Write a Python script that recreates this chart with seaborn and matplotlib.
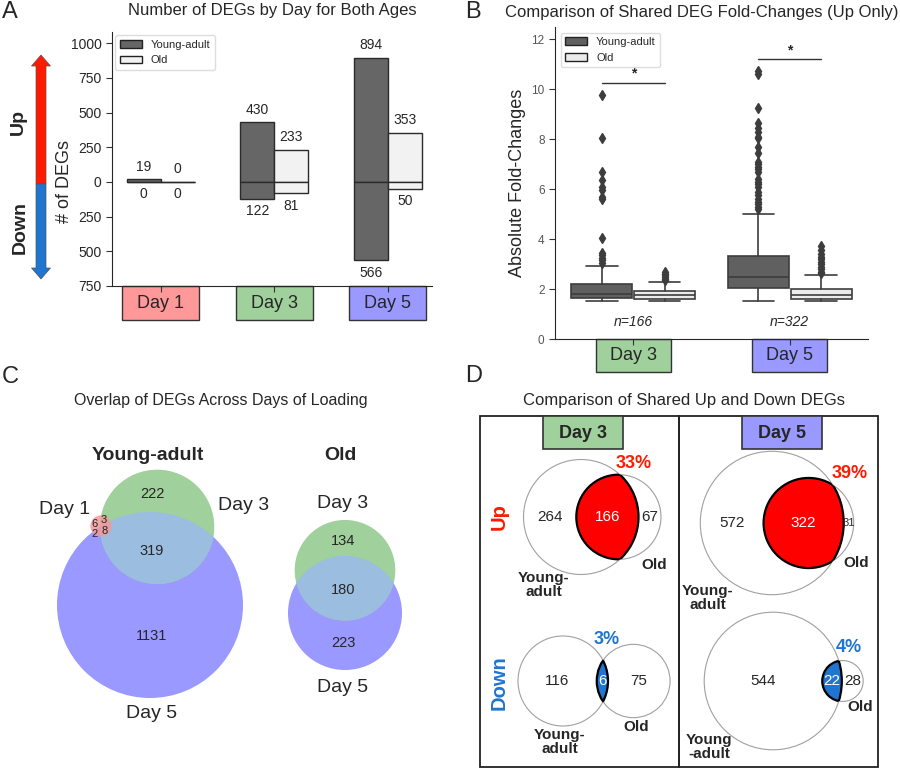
import numpy as np
import pandas as pd
import matplotlib
matplotlib.use("Agg")
import matplotlib.pyplot as plt
import matplotlib.patches as mpatches
import matplotlib.transforms as mtransforms
import seaborn as sns

# ---- data ----
days = ["Day 1", "Day 3", "Day 5"]
young_up = [19, 430, 894]
young_down = [0, 122, 566]
old_up = [0, 233, 353]
old_down = [0, 81, 50]
day_colors = ["#ff9999", "#a0d09b", "#9999ff"]
age_colors = {"Young-adult": "#666666", "Old": "#f2f2f2"}

# fold-change boxes (Up only): Day3 young, Day3 old, Day5 young, Day5 old
fc_days = ["Day 3", "Day 5"]
fc_n = [166, 322]
fc_q1 = [1.65, 1.61, 2.05, 1.61]
fc_med = [1.80, 1.76, 2.47, 1.76]
fc_q3 = [2.21, 1.91, 3.33, 2.00]
fc_lo = [1.51, 1.51, 1.54, 1.51]
fc_hi = [2.93, 2.29, 5.02, 2.58]
fc_fliers_d3_young = [3.05, 3.15, 3.25, 3.35, 3.45, 4.05, 5.6, 5.7, 5.95, 6.1, 6.35, 6.7, 8.05, 9.75]
fc_fliers_d3_old = [2.36, 2.42, 2.48, 2.55, 2.62, 2.7]
fc_fliers_d5_young = [5.2, 5.3, 5.4, 5.5, 5.6, 5.75, 5.9, 6.1, 6.2, 6.3, 6.4, 6.69, 6.8, 6.9,
                      7.0, 7.1, 7.45, 7.67, 8.03, 8.1, 8.29, 8.45, 8.63, 9.24, 10.6, 10.72]
fc_fliers_d5_old = [2.65, 2.7, 2.8, 2.9, 3.0, 3.1, 3.2, 3.3, 3.4, 3.55, 3.72]
fc_sig_y = [10.25, 11.2]

# venn counts (C): young regions = 1, 1&3, 1&5, 1&3&5, 3, 3&5, 5
ya_regions = [6, 3, 2, 8, 222, 319, 1131]
old_regions = [134, 180, 223]  # 3 only, 3&5, 5 only

# shared up / down (D)
shared_up = [166, 322]
shared_down = [6, 22]
up_pct = ["33%", "39%"]
down_pct = ["3%", "4%"]

RED = "#ff1a00"
BLUE = "#1f75d0"


def lens_area(r1, r2, d):
    if d >= r1 + r2:
        return 0.0
    if d <= abs(r1 - r2):
        return np.pi * min(r1, r2) ** 2
    a1 = r1 ** 2 * np.arccos((d * d + r1 * r1 - r2 * r2) / (2 * d * r1))
    a2 = r2 ** 2 * np.arccos((d * d + r2 * r2 - r1 * r1) / (2 * d * r2))
    a3 = 0.5 * np.sqrt((-d + r1 + r2) * (d + r1 - r2) * (d - r1 + r2) * (d + r1 + r2))
    return a1 + a2 - a3


def venn_gap(n1, n2, shared, r1):
    # radius of the second circle and centre distance so areas follow the counts
    r2 = r1 * np.sqrt(n2 / n1)
    target = shared / n1 * np.pi * r1 ** 2
    lo, hi = abs(r1 - r2), r1 + r2
    for _ in range(80):
        mid = (lo + hi) / 2
        if lens_area(r1, r2, mid) > target:
            lo = mid
        else:
            hi = mid
    return r2, (lo + hi) / 2


def day_boxes(ax, labels, colors, width, height, **kw):
    trans = mtransforms.blended_transform_factory(ax.transData, ax.transAxes)
    for i, (lab, col) in enumerate(zip(labels, colors)):
        ax.add_patch(mpatches.Rectangle((i - width / 2, -height), width, height, transform=trans,
                                        fc=col, ec="#333333", lw=1, clip_on=False, zorder=0.5))
        ax.text(i, -height / 2, lab, transform=trans, ha="center", va="center", **kw)


sns.set_style("ticks")
plt.rcParams["font.family"] = ["Liberation Sans", "DejaVu Sans"]

fig = plt.figure(figsize=(9, 7.68), dpi=100)
ov = fig.add_axes([0, 0, 1, 1])
ov.set_xlim(0, 900)
ov.set_ylim(768, 0)
ov.axis("off")

# ---------------- A ----------------
axA = fig.add_axes([112 / 900, 1 - 286 / 768, 320 / 900, 254 / 768])
dfA = pd.DataFrame({"day": days * 2,
                    "age": ["Young-adult"] * 3 + ["Old"] * 3,
                    "up": young_up + old_up,
                    "down": [-v for v in young_down + old_down]})
for col in ["up", "down"]:
    sns.barplot(data=dfA, x="day", y=col, hue="age", palette=age_colors, width=0.6,
                saturation=1, edgecolor="#2a2a2a", linewidth=1, errorbar=None,
                legend=False, ax=axA)
for cont, vals, sign in zip(axA.containers, [young_up, old_up, young_down, old_down], [1, 1, -1, -1]):
    for p, v in zip(cont, vals):
        axA.annotate(str(v), (p.get_x() + p.get_width() / 2, sign * v), xytext=(0, 4 * sign),
                     textcoords="offset points", ha="center",
                     va="bottom" if sign > 0 else "top", fontsize=10)
axA.set_ylim(-750, 1080)
yt = [-750, -500, -250, 0, 250, 500, 750, 1000]
axA.set_yticks(yt)
axA.set_yticklabels([str(abs(t)) for t in yt], fontsize=10)
axA.set_xlim(-0.43, 2.39)
axA.set_xticks([0, 1, 2])
axA.set_xticklabels([])
axA.set_xlabel("")
axA.set_ylabel("# of DEGs", fontsize=13)
axA.yaxis.set_label_coords(-0.122, 0.41)
axA.tick_params(length=4, color="#333333")
sns.despine(ax=axA)
handles = [mpatches.Patch(fc=c, ec="#222222", label=k) for k, c in age_colors.items()]
axA.legend(handles=handles, loc="upper left", fontsize=8, borderaxespad=0.3,
           edgecolor="#dddddd", framealpha=1)
day_boxes(axA, days, day_colors, 0.68, 0.134, fontsize=13)
axA.set_title("Number of DEGs by Day for Both Ages", fontsize=12, pad=12)

# up / down arrow
ov.add_patch(mpatches.FancyArrow(41, 184, 0, 55 - 184, width=10, head_width=19, head_length=11,
                                 length_includes_head=True, fc=RED, ec="#555555", lw=0.5))
ov.add_patch(mpatches.FancyArrow(41, 184, 0, 279 - 184, width=10, head_width=19, head_length=11,
                                 length_includes_head=True, fc=BLUE, ec="#555555", lw=0.5))
ov.text(18, 122, "Up", rotation=90, fontsize=14, fontweight="bold", ha="center", va="center")
ov.text(20, 228, "Down", rotation=90, fontsize=14, fontweight="bold", ha="center", va="center")

# ---------------- B ----------------
axB = fig.add_axes([555 / 900, 1 - 339 / 768, 313 / 900, 312 / 768])
fliers = [fc_fliers_d3_young, fc_fliers_d3_old, fc_fliers_d5_young, fc_fliers_d5_old]
stats = [dict(q1=a, med=b, q3=c, whislo=d, whishi=e, fliers=f)
         for a, b, c, d, e, f in zip(fc_q1, fc_med, fc_q3, fc_lo, fc_hi, fliers)]
pos = [i + off for i in range(len(fc_days)) for off in (-0.2, 0.2)]
line_c = "#3d3d3d"
bp = axB.bxp(stats, positions=pos, widths=0.39, capwidths=0.2, patch_artist=True,
             boxprops=dict(edgecolor=line_c, linewidth=1.2),
             medianprops=dict(color=line_c, linewidth=1.2),
             whiskerprops=dict(color=line_c, linewidth=1.2),
             capprops=dict(color=line_c, linewidth=1.2),
             flierprops=dict(marker="d", markerfacecolor=line_c, markeredgecolor=line_c, markersize=5))
for box, fc in zip(bp["boxes"], ["#606060", "#ebebeb"] * 2):
    box.set_facecolor(fc)
axB.set_xlim(-0.5, 1.5)
axB.set_ylim(0, 12.48)
axB.set_xticks([0, 1])
axB.set_xticklabels([])
axB.set_yticks(range(0, 13, 2))
axB.tick_params(axis="y", labelsize=8.5, labelcolor="#555555")
axB.tick_params(length=4, color="#333333")
axB.set_ylabel("Absolute Fold-Changes", fontsize=13)
sns.despine(ax=axB)
for i, (y, n) in enumerate(zip(fc_sig_y, fc_n)):
    axB.plot([i - 0.2, i + 0.2], [y, y], color="#333333", lw=1)
    axB.text(i, y + 0.08, "*", ha="center", va="bottom", fontsize=10, fontweight="bold")
    axB.text(i, 0.7, f"n={n}", ha="center", va="center", fontsize=10, style="italic")
axB.legend(handles=[mpatches.Patch(fc="#606060", ec="#222222", label="Young-adult"),
                    mpatches.Patch(fc="#ebebeb", ec="#222222", label="Old")],
           loc="upper left", fontsize=8, borderaxespad=0.5, edgecolor="#dddddd", framealpha=1)
day_boxes(axB, fc_days, day_colors[1:], 0.48, 0.106, fontsize=13)
ov.text(702, 12, "Comparison of Shared DEG Fold-Changes (Up Only)", fontsize=12,
        ha="center", va="center")

# panel letters
for lab, x, y in [("A", 2, 12), ("B", 465, 12), ("C", 2, 377), ("D", 465, 376)]:
    ov.text(x, y, lab, fontsize=17, ha="left", va="center")

# ---------------- C ----------------
ov.text(221, 401, "Overlap of DEGs Across Days of Loading", fontsize=11.5, ha="center", va="center")
ya_sizes = [young_up[i] + young_down[i] for i in range(3)]
r5 = 93
r3, d35 = venn_gap(ya_sizes[2], ya_sizes[1], ya_regions[3] + ya_regions[5], r5)
r1 = r5 * np.sqrt(ya_sizes[0] / ya_sizes[2])
c5 = (150, 605)
direc = np.array([7, -77]) / np.hypot(7, 77)
c3 = (c5[0] + direc[0] * d35, c5[1] + direc[1] * d35)
p5 = mpatches.Circle(c5, r5, fc=day_colors[2], ec="none")
p3 = mpatches.Circle(c3, r3, fc=day_colors[1], ec="none")
ov.add_patch(p5)
ov.add_patch(p3)
mix = mpatches.Circle(c5, r5, fc="#9bbde0", ec="none")
ov.add_patch(mix)
mix.set_clip_path(p3)
ov.add_patch(mpatches.Circle((101, 526), r1, fc="#f29a9a", ec="none", alpha=0.85))
for txt, (x, y) in zip(ya_regions, [(94, 524), (104, 520), (95, 534), (105, 531)]):
    ov.text(x, y, str(txt), fontsize=8, ha="center", va="center")
for txt, y in zip(ya_regions[4:], [494, 551, 636]):
    ov.text(152, y, str(txt), fontsize=10.5, ha="center", va="center")
ov.text(148, 455, "Young-adult", fontsize=14, fontweight="bold", ha="center", va="center")
ov.text(65, 510, "Day 1", fontsize=14, ha="center", va="center")
ov.text(244, 505, "Day 3", fontsize=14, ha="center", va="center")
ov.text(152, 714, "Day 5", fontsize=14, ha="center", va="center")

old_sizes = [old_up[i] + old_down[i] for i in range(3)]
ro5 = 57
ro3, do35 = venn_gap(old_sizes[2], old_sizes[1], old_regions[1], ro5)
oc5 = (345, 613)
oc3 = (345, 613 - do35)
q5 = mpatches.Circle(oc5, ro5, fc=day_colors[2], ec="none")
q3 = mpatches.Circle(oc3, ro3, fc=day_colors[1], ec="none")
ov.add_patch(q5)
ov.add_patch(q3)
mix2 = mpatches.Circle(oc5, ro5, fc="#9bbde0", ec="none")
ov.add_patch(mix2)
mix2.set_clip_path(q3)
for txt, y in zip(old_regions, [541, 590, 643]):
    ov.text(343, y, str(txt), fontsize=10.5, ha="center", va="center")
ov.text(340, 455, "Old", fontsize=14, fontweight="bold", ha="center", va="center")
ov.text(343, 504, "Day 3", fontsize=14, ha="center", va="center")
ov.text(343, 688, "Day 5", fontsize=14, ha="center", va="center")

# ---------------- D ----------------
ov.text(684, 401, "Comparison of Shared Up and Down DEGs", fontsize=12, ha="center", va="center")
for x0 in (480, 679):
    ov.add_patch(mpatches.Rectangle((x0, 416), 199, 351, fc="none", ec="#222222", lw=1.3))
for lab, col, x0 in zip(fc_days, day_colors[1:], (543, 742)):
    ov.add_patch(mpatches.Rectangle((x0, 416), 80, 33, fc=col, ec="#333333", lw=1.2))
    ov.text(x0 + 40, 433, lab, fontsize=13, fontweight="bold", ha="center", va="center")
ov.text(499, 517, "Up", rotation=90, fontsize=14.5, fontweight="bold", color=RED, ha="center", va="center")
ov.text(499, 683, "Down", rotation=90, fontsize=14.5, fontweight="bold", color=BLUE, ha="center", va="center")


def venn2(cx, cy, r_young, n_young, n_old, shared, fill, txt_col, pct, pct_xy,
          ya_xy, old_xy, ya_text, small=False):
    r_old, d = venn_gap(n_young, n_old, shared, r_young)
    ox = cx + d
    ov.add_patch(mpatches.Circle((cx, cy), r_young, fc="none", ec="#a0a0a0", lw=0.8))
    ov.add_patch(mpatches.Circle((ox, cy), r_old, fc="none", ec="#a0a0a0", lw=0.8))
    clip_y = mpatches.Circle((cx, cy), r_young, fc="none", ec="none")
    clip_o = mpatches.Circle((ox, cy), r_old, fc="none", ec="none")
    ov.add_patch(clip_y)
    ov.add_patch(clip_o)
    lens_o = mpatches.Circle((ox, cy), r_old, fc=fill, ec="black", lw=1.6)
    ov.add_patch(lens_o)
    lens_o.set_clip_path(clip_y)
    lens_y = mpatches.Circle((cx, cy), r_young, fc="none", ec="black", lw=1.6)
    ov.add_patch(lens_y)
    lens_y.set_clip_path(clip_o)
    yl, ol, yr, orr = cx - r_young, ox - r_old, cx + r_young, ox + r_old
    ov.text((yl + ol) / 2, cy, str(n_young - shared), fontsize=11, ha="center", va="center")
    ov.text((ol + yr) / 2, cy, str(shared), fontsize=11, color="white", ha="center", va="center")
    ov.text((yr + orr) / 2, cy, str(n_old - shared), fontsize=8 if small else 11,
            ha="center", va="center")
    ov.text(*pct_xy, pct, fontsize=13, fontweight="bold", color=txt_col, ha="center", va="center")
    ov.text(*ya_xy, ya_text, fontsize=11, fontweight="bold", ha="center", va="center", linespacing=1.0)
    ov.text(*old_xy, "Old", fontsize=11, fontweight="bold", ha="center", va="center")


venn2(581, 517, 57.5, young_up[1], old_up[1], shared_up[0], "#ff0000", RED, up_pct[0],
      (634, 464), (544, 585), (654, 565), "Young-\nadult")
venn2(772, 523, 71.7, young_up[2], old_up[2], shared_up[1], "#ff0000", RED, up_pct[1],
      (850, 473), (708, 598), (856, 563), "Young-\nadult", small=True)
venn2(563, 681, 45, young_down[1], old_down[1], shared_down[0], BLUE, BLUE, down_pct[0],
      (607, 639), (560, 742), (636, 727), "Young-\nadult")
venn2(773, 681, 68.8, young_down[2], old_down[2], shared_down[1], BLUE, BLUE, down_pct[1],
      (849, 648), (709, 747), (860, 707), "Young\n-adult")

fig.savefig("out.png", dpi=100)
